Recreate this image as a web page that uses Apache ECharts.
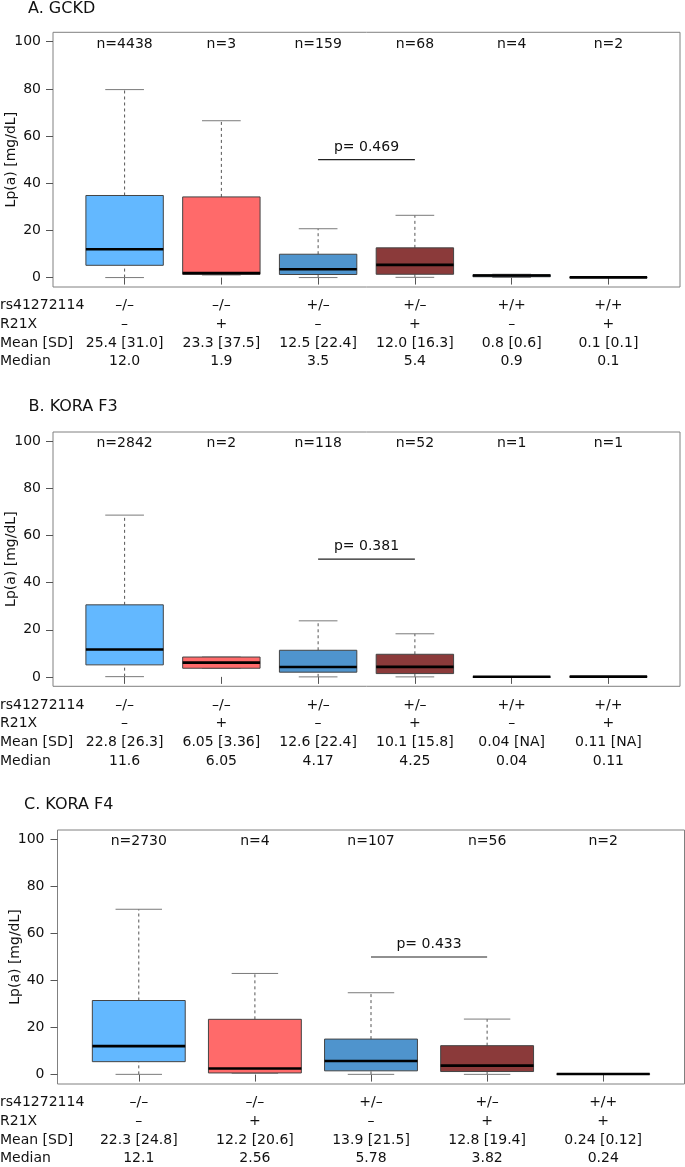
<!DOCTYPE html>
<html>
<head>
<meta charset="utf-8">
<script src="https://cdn.jsdelivr.net/npm/echarts@6/dist/echarts.min.js"></script>
<style>
html,body{margin:0;padding:0;background:#fff;}
#chart{width:685px;height:1167px;}
</style>
</head>
<body>
<div id="chart"></div>
<script>
// ---------- data ----------
const titleA = 'A. GCKD', titleB = 'B. KORA F3', titleC = 'C. KORA F4';
const rowHeaders = ['rs41272114', 'R21X', 'Mean [SD]', 'Median'];
const yTicks = [0, 20, 40, 60, 80, 100];

// Panel A (GCKD)
const genoA = ['–/–', '–/–', '+/–', '+/–', '+/+', '+/+'];
const r21xA = ['–', '+', '–', '+', '–', '+'];
const meanSdA = ['25.4 [31.0]', '23.3 [37.5]', '12.5 [22.4]', '12.0 [16.3]', '0.8 [0.6]', '0.1 [0.1]'];
const medianTxtA = ['12.0', '1.9', '3.5', '5.4', '0.9', '0.1'];
const nA = [4438, 3, 159, 68, 4, 2];
const lowA = [0, 1.1, 0, 0.1, 0.1, 0.03];
const q1A = [5.2, 1.4, 1.3, 1.4, 0.35, 0.03];
const medA = [12.0, 1.9, 3.5, 5.4, 0.9, 0.1];
const q3A = [34.8, 34.2, 9.9, 12.6, 1.2, 0.17];
const highA = [79.7, 66.5, 20.7, 26.4, 1.4, 0.17];
const pA = { from: 3, to: 4, y: 50, text: 'p= 0.469' };

// Panel B (KORA F3)
const genoB = ['–/–', '–/–', '+/–', '+/–', '+/+', '+/+'];
const r21xB = ['–', '+', '–', '+', '–', '+'];
const meanSdB = ['22.8 [26.3]', '6.05 [3.36]', '12.6 [22.4]', '10.1 [15.8]', '0.04 [NA]', '0.11 [NA]'];
const medianTxtB = ['11.6', '6.05', '4.17', '4.25', '0.04', '0.11'];
const nB = [2842, 2, 118, 52, 1, 1];
const lowB = [0.1, 3.67, 0, 0, 0.04, 0.11];
const q1B = [5.1, 3.67, 2.0, 1.4, 0.04, 0.11];
const medB = [11.6, 6.05, 4.17, 4.25, 0.04, 0.11];
const q3B = [30.6, 8.43, 11.3, 9.6, 0.04, 0.11];
const highB = [68.7, 8.43, 23.8, 18.3, 0.04, 0.11];
const pB = { from: 3, to: 4, y: 50, text: 'p= 0.381' };

// Panel C (KORA F4)
const genoC = ['–/–', '–/–', '+/–', '+/–', '+/+'];
const r21xC = ['–', '+', '–', '+', '+'];
const meanSdC = ['22.3 [24.8]', '12.2 [20.6]', '13.9 [21.5]', '12.8 [19.4]', '0.24 [0.12]'];
const medianTxtC = ['12.1', '2.56', '5.78', '3.82', '0.24'];
const nC = [2730, 4, 107, 56, 2];
const lowC = [0.1, 0.6, 0.1, 0.1, 0.155];
const q1C = [5.5, 0.7, 1.6, 1.3, 0.155];
const medC = [12.1, 2.56, 5.78, 3.82, 0.24];
const q3C = [31.5, 23.5, 15.1, 12.3, 0.325];
const highC = [70.3, 43.0, 34.8, 23.6, 0.325];
const pC = { from: 3, to: 4, y: 50, text: 'p= 0.433' };

const colorsAB = ['#63B8FF', '#FF6A6A', '#4F94CD', '#8B3A3A', '#63B8FF', '#FF6A6A'];
const colorsC = ['#63B8FF', '#FF6A6A', '#4F94CD', '#8B3A3A', '#FF6A6A'];

// ---------- styling ----------
const FONT = 'DejaVu Sans';
const TXT = '#111';
const LINE_H = 18.7;

const panels = [
  { title: titleA, titleLeft: 28, titleTop: 1, left: 53, top: 32.3, width: 627, height: 254.7, yMargin: 12, nameGap: 35,
    geno: genoA, r21x: r21xA, meanSd: meanSdA, medTxt: medianTxtA, n: nA,
    low: lowA, q1: q1A, med: medA, q3: q3A, high: highA, p: pA, colors: colorsAB },
  { title: titleB, titleLeft: 28.5, titleTop: 398.7, left: 53, top: 432, width: 627, height: 254.3, yMargin: 12, nameGap: 35,
    geno: genoB, r21x: r21xB, meanSd: meanSdB, medTxt: medianTxtB, n: nB,
    low: lowB, q1: q1B, med: medB, q3: q3B, high: highB, p: pB, colors: colorsAB },
  { title: titleC, titleLeft: 24, titleTop: 797, left: 57.5, top: 830, width: 627, height: 254, yMargin: 13, nameGap: 35,
    geno: genoC, r21x: r21xC, meanSd: meanSdC, medTxt: medianTxtC, n: nC,
    low: lowC, q1: q1C, med: medC, q3: q3C, high: highC, p: pC, colors: colorsC }
];

const option = {
  animation: false,
  backgroundColor: '#fff',
  title: [], grid: [], xAxis: [], yAxis: [], series: []
};

function makeBoxRenderer(colors) {
  return function (params, api) {
    const x = api.value(0);
    const lo = api.value(1), q1 = api.value(2), md = api.value(3), q3 = api.value(4), hi = api.value(5);
    const n = api.value(6);
    const half = 0.4, cap = 0.2;
    const c = (a, b) => api.coord([a, b]);
    const pHi = c(x, hi), pQ3 = c(x, q3), pQ1 = c(x, q1), pLo = c(x, lo);
    const bl = c(x - half, q3), br = c(x + half, q1);
    const mL = c(x - half, md), mR = c(x + half, md);
    const capHL = c(x - cap, hi), capHR = c(x + cap, hi);
    const capLL = c(x - cap, lo), capLR = c(x + cap, lo);
    const nPos = c(x, 99);
    const children = [];
    const dash = { stroke: '#555', lineWidth: 1, lineDash: [3, 3] };
    if (hi > q3) children.push({ type: 'line', shape: { x1: pQ3[0], y1: pQ3[1], x2: pHi[0], y2: pHi[1] }, style: dash });
    if (lo < q1) children.push({ type: 'line', shape: { x1: pLo[0], y1: pLo[1], x2: pQ1[0], y2: pQ1[1] }, style: dash });
    children.push({ type: 'line', shape: { x1: capHL[0], y1: capHL[1], x2: capHR[0], y2: capHR[1] }, style: { stroke: '#7a7a7a', lineWidth: 1 } });
    children.push({ type: 'line', shape: { x1: capLL[0], y1: capLL[1], x2: capLR[0], y2: capLR[1] }, style: { stroke: '#7a7a7a', lineWidth: 1 } });
    children.push({ type: 'rect', shape: { x: bl[0], y: bl[1], width: br[0] - bl[0], height: Math.max(br[1] - bl[1], 0.5) },
      style: { fill: colors[params.dataIndex], stroke: '#444', lineWidth: 1 } });
    children.push({ type: 'line', shape: { x1: mL[0], y1: mL[1], x2: mR[0], y2: mR[1] }, style: { stroke: '#000', lineWidth: 2.6 } });
    children.push({ type: 'text', style: { text: 'n=' + n, x: nPos[0], y: nPos[1], align: 'center', verticalAlign: 'middle',
      fontSize: 14, fontFamily: FONT, fill: TXT } });
    return { type: 'group', children: children };
  };
}

function renderP(params, api) {
  const a = api.coord([api.value(0), api.value(2)]);
  const b = api.coord([api.value(1), api.value(2)]);
  const t = api.coord([(api.value(0) + api.value(1)) / 2, api.value(2) + 5.4]);
  return { type: 'group', children: [
    { type: 'line', shape: { x1: a[0], y1: a[1], x2: b[0], y2: b[1] }, style: { stroke: '#222', lineWidth: 1.2 } },
    { type: 'text', style: { text: api.value(3), x: t[0], y: t[1], align: 'center', verticalAlign: 'middle',
      fontSize: 14, fontFamily: FONT, fill: TXT } }
  ] };
}

panels.forEach(function (p, k) {
  const count = p.n.length;
  const positions = p.n.map((_, i) => i + 1);
  const ext = count * 0.04;
  option.title.push({ text: p.title, left: p.titleLeft, top: p.titleTop, padding: 0,
    textStyle: { fontSize: 16, fontWeight: 'normal', fontFamily: FONT, color: TXT, lineHeight: 16 } });
  option.title.push({ text: rowHeaders.join('\n'), left: 0, top: p.top + p.height + 9.35, padding: 0,
    textStyle: { fontSize: 14, fontWeight: 'normal', fontFamily: FONT, color: TXT, lineHeight: LINE_H } });
  option.grid.push({ left: p.left, top: p.top, width: p.width, height: p.height, show: true,
    containLabel: false, outerBoundsMode: 'none',
    borderColor: '#808080', borderWidth: 1, backgroundColor: 'transparent' });
  option.xAxis.push({
    type: 'value', gridIndex: k, min: 0.5 - ext, max: count + 0.5 + ext,
    axisLine: { show: false }, splitLine: { show: false },
    axisTick: { show: true, customValues: positions, length: 7, lineStyle: { color: '#555' } },
    axisLabel: {
      show: true, customValues: positions, margin: 9.35, fontSize: 14, fontFamily: FONT, color: TXT,
      lineHeight: LINE_H, align: 'center',
      formatter: function (v) {
        const i = Math.round(v) - 1;
        return [p.geno[i], p.r21x[i], p.meanSd[i], p.medTxt[i]].join('\n');
      }
    }
  });
  option.yAxis.push({
    type: 'value', gridIndex: k, min: -4, max: 104,
    name: 'Lp(a) [mg/dL]', nameLocation: 'middle', nameRotate: 90, nameGap: p.nameGap,
    nameMoveOverlap: false,
    nameTextStyle: { fontSize: 14, fontFamily: FONT, color: TXT },
    axisLine: { show: false }, splitLine: { show: false },
    axisTick: { show: true, customValues: yTicks, length: 7, lineStyle: { color: '#555' } },
    axisLabel: { show: true, customValues: yTicks, margin: p.yMargin, fontSize: 14, fontFamily: FONT, color: TXT }
  });
  const data = positions.map((x, i) => [x, p.low[i], p.q1[i], p.med[i], p.q3[i], p.high[i], p.n[i]]);
  option.series.push({
    type: 'custom', xAxisIndex: k, yAxisIndex: k, renderItem: makeBoxRenderer(p.colors),
    encode: { x: 0, y: [1, 2, 3, 4, 5] }, data: data, silent: true
  });
  option.series.push({
    type: 'custom', xAxisIndex: k, yAxisIndex: k, renderItem: renderP,
    encode: { x: [0, 1], y: 2 }, data: [[p.p.from, p.p.to, p.p.y, p.p.text]], silent: true
  });
});

const chart = echarts.init(document.getElementById('chart'), null, { renderer: 'canvas' });
chart.setOption(option);
</script>
</body>
</html>
